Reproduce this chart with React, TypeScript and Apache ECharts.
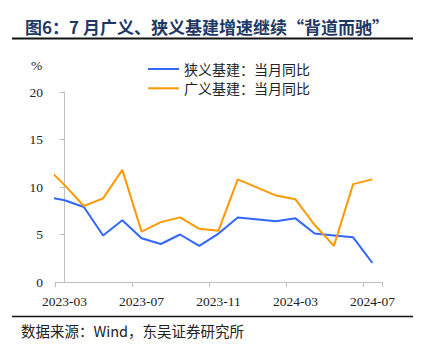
import React, { useEffect, useRef } from "react";
import * as echarts from "echarts";

// Months (2023-02 = Jan–Feb combined; 2024-01 merged into 2024-02)
const months = [
  "2023-02", "2023-03", "2023-04", "2023-05", "2023-06", "2023-07", "2023-08", "2023-09",
  "2023-10", "2023-11", "2023-12", "2024-01", "2024-02", "2024-03", "2024-04", "2024-05",
  "2024-06", "2024-07",
];
const narrowInfra: (number | null)[] = [
  9.0, 8.6, 7.9, 4.9, 6.5, 4.6, 4.0, 5.0, 3.8, 5.1, 6.8, null, 6.4, 6.7, 5.1, 4.9, 4.7, 2.0,
];
const broadInfra: (number | null)[] = [
  12.2, 10.2, 8.0, 8.8, 11.8, 5.3, 6.3, 6.8, 5.6, 5.4, 10.8, null, 9.1, 8.7, 6.0, 3.8, 10.3, 10.8,
];
const axisMonths = months.slice(1);
const yTicks = [0, 5, 10, 15, 20];

const seriesNames = ["狭义基建：当月同比", "广义基建：当月同比"];
const titleText = "图6：7 月广义、狭义基建增速继续“背道而驰”";
const sourceText = "数据来源：Wind，东吴证券研究所";

const CJK = '"Noto Sans CJK SC", "Noto Sans", sans-serif';
const SERIF = '"Liberation Serif", "DejaVu Serif", serif';

export default function App() {
  const ref = useRef<HTMLDivElement>(null);

  useEffect(() => {
    if (!ref.current) return;
    const chart = echarts.init(ref.current, null, { renderer: "svg" });
    const toPoints = (arr: (number | null)[]) => arr.map((v, i) => [i - 1, v]);
    chart.setOption({
      animation: false,
      backgroundColor: "#ffffff",
      title: {
        text: titleText,
        left: 20,
        top: 13,
        textStyle: { fontFamily: CJK, fontSize: 17, fontWeight: "bold", color: "#1F3864" },
      },
      legend: {
        orient: "vertical",
        left: 143,
        top: 57,
        icon: "rect",
        itemWidth: 31,
        itemHeight: 2,
        itemGap: 5.3,
        data: seriesNames,
        textStyle: { fontFamily: CJK, fontSize: 14, lineHeight: 14, color: "#222" },
      },
      grid: { left: 55, right: 42, top: 92, bottom: 80, containLabel: false },
      xAxis: [
        {
          type: "category",
          data: axisMonths,
          boundaryGap: true,
          axisLine: { lineStyle: { color: "#BFBFBF", width: 1 } },
          axisTick: { show: true, interval: 3, length: 5, lineStyle: { color: "#BFBFBF" } },
          axisLabel: {
            interval: 3,
            margin: 12,
            fontFamily: SERIF,
            fontSize: 13.5,
            color: "#222",
          },
          splitLine: { show: false },
        },
        {
          type: "value",
          min: -0.5,
          max: axisMonths.length - 0.5,
          show: false,
          splitLine: { show: false },
        },
      ],
      yAxis: {
        type: "value",
        min: yTicks[0],
        max: yTicks[yTicks.length - 1],
        interval: 5,
        axisLine: { show: true, lineStyle: { color: "#BFBFBF" } },
        axisTick: { show: true, length: 5, lineStyle: { color: "#BFBFBF" } },
        axisLabel: { margin: 12, fontFamily: SERIF, fontSize: 13.5, color: "#222" },
        splitLine: { show: false },
      },
      graphic: [
        {
          type: "line",
          shape: { x1: 12, y1: 38.5, x2: 413, y2: 38.5 },
          style: { stroke: "#111", lineWidth: 2 },
        },
        {
          type: "line",
          shape: { x1: 12, y1: 316.5, x2: 413, y2: 316.5 },
          style: { stroke: "#111", lineWidth: 1.5 },
        },
        {
          type: "text",
          left: 31,
          top: 58,
          style: { text: "%", fontFamily: SERIF, fontSize: 13.5, fill: "#222" },
        },
        {
          type: "text",
          left: 21,
          top: 323,
          style: { text: sourceText, fontFamily: CJK, fontSize: 14.5, fill: "#222" },
        },
      ],
      series: [
        {
          name: seriesNames[0],
          type: "line",
          xAxisIndex: 1,
          data: toPoints(narrowInfra),
          connectNulls: true,
          symbol: "none",
          clip: true,
          lineStyle: { color: "#3366FF", width: 2 },
          itemStyle: { color: "#3366FF" },
        },
        {
          name: seriesNames[1],
          type: "line",
          xAxisIndex: 1,
          data: toPoints(broadInfra),
          connectNulls: true,
          symbol: "none",
          clip: true,
          lineStyle: { color: "#FF9900", width: 2 },
          itemStyle: { color: "#FF9900" },
        },
      ],
    });
    return () => chart.dispose();
  }, []);

  return (
    <div
      ref={ref}
      style={{ position: "fixed", left: 0, top: 0, width: 424, height: 362, background: "#fff" }}
    />
  );
}
